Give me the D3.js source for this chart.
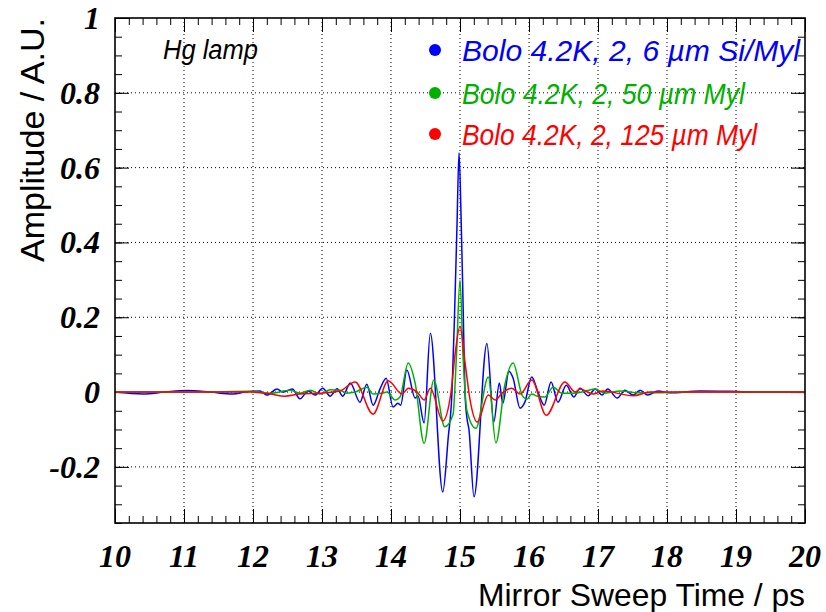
<!DOCTYPE html>
<html><head><meta charset="utf-8">
<script src="https://cdn.jsdelivr.net/npm/d3@7"></script>
<style>body{margin:0;background:#fff}svg{display:block}</style>
</head><body>
<svg id="c" width="826" height="612"></svg>
<script>
// ---- data ----
const xTickLabels = ["10","11","12","13","14","15","16","17","18","19","20"];
const yTickValues = [-0.2, 0, 0.2, 0.4, 0.6, 0.8, 1];
const yTickLabels = ["-0.2","0","0.2","0.4","0.6","0.8","1"];
const seriesNames = ["Bolo 4.2K, 2, 6 \u00b5m Si/Myl", "Bolo 4.2K, 2, 50 \u00b5m Myl", "Bolo 4.2K, 2, 125 \u00b5m Myl"];
const seriesColors = ["#0000ff", "#00b000", "#ff0000"];

const blueTime = [10.00,10.41,10.72,11.04,11.38,11.71,11.88,12.10,12.20,12.35,12.43,12.57,12.68,12.80,12.90,13.01,13.12,13.22,13.30,13.41,13.55,13.65,13.74,13.84,13.93,14.03,14.10,14.14,14.23,14.35,14.39,14.48,14.57,14.75,14.83,14.884,14.920,14.957,14.986,15.014,15.043,15.072,15.101,15.130,15.203,15.39,15.49,15.57,15.62,15.71,15.77,15.87,15.94,16.04,16.13,16.22,16.32,16.42,16.54,16.65,16.74,16.86,16.96,17.06,17.14,17.28,17.39,17.51,17.61,17.72,17.87,18.04,18.48,18.91,19.35,20.00];
const blueAmp  = [0,-0.005,0,0.004,0,-0.005,0,0.003,-0.008,0.008,0,0.008,-0.018,0.003,-0.008,0.010,-0.011,0.009,-0.011,0.024,-0.027,0.021,-0.035,0.008,0.037,-0.040,-0.030,-0.035,0.059,-0.016,-0.010,-0.083,0.157,-0.267,-0.12,0.0,0.20,0.45,0.64,0.48,0.25,0.0,-0.07,-0.10,-0.28,0.13,-0.08,0.024,-0.030,0.056,0.037,-0.043,-0.027,0.040,0.0,-0.035,0.027,-0.027,0.018,-0.013,0.010,-0.010,0.008,-0.008,0.008,-0.016,0.005,-0.008,0.005,-0.008,0.003,-0.002,0.003,0.002,0,0];

const greenTime = [10.00,11.23,11.96,12.25,12.54,12.68,12.83,12.97,13.12,13.26,13.36,13.48,13.65,13.74,13.87,13.94,14.06,14.13,14.25,14.35,14.48,14.62,14.78,14.899,14.949,15.000,15.043,15.101,15.23,15.41,15.52,15.65,15.77,15.90,15.97,16.04,16.12,16.23,16.35,16.48,16.64,16.81,16.96,17.10,17.32,17.61,18.48,20.00];
const greenAmp  = [0,0,0.002,-0.003,0.005,-0.003,0.005,-0.005,0.006,0.005,-0.003,0,0.013,-0.005,-0.003,0,-0.021,-0.013,0.078,0.024,-0.137,0.032,-0.093,-0.06,0.10,0.30,0.10,-0.05,-0.097,0.040,-0.136,0.02,0.078,-0.008,-0.019,-0.005,-0.011,-0.013,0.013,-0.003,-0.003,0.002,0.008,-0.003,0.003,-0.002,0,0];

const redTime = [10.00,11.23,11.96,12.25,12.46,12.68,12.97,13.26,13.48,13.74,13.96,14.16,14.25,14.38,14.48,14.57,14.75,14.870,14.928,15.000,15.072,15.145,15.25,15.41,15.51,15.61,15.75,15.87,16.04,16.25,16.52,16.67,16.74,16.93,17.07,17.51,17.75,18.48,20.00];
const redAmp  = [0,0,0,-0.005,-0.011,-0.005,-0.003,0.003,0.027,-0.059,0.030,-0.005,0.010,0.0,-0.021,0.010,-0.077,0.0,0.10,0.175,0.08,-0.02,-0.080,-0.008,-0.021,-0.003,0.010,-0.005,0.032,-0.062,0.027,0.0,0.008,-0.005,0.003,-0.010,0,0,0];

// ---- layout ----
const L = 115, R = 805, T = 18, B = 523;
const svg = d3.select("#c");
svg.append("rect").attr("width",826).attr("height",612).attr("fill","#fff");
const x = d3.scaleLinear().domain([10,20]).range([L,R]);
const y = d3.scaleLinear().domain([-0.35,1]).range([B,T]);

const xMajor = d3.range(10, 20.001, 1);
const xMinor = d3.range(0, 51).map(i => 10 + i*0.2);
const yMinor = d3.range(0, 28).map(i => -0.35 + i*0.05).filter(v => v <= 1.0001);

// grid
const grid = svg.append("g").attr("stroke","#000").attr("stroke-width",1).attr("stroke-dasharray","1,3");
grid.selectAll("line.gx").data(xMajor.slice(1,-1)).join("line")
  .attr("x1",d=>x(d)).attr("x2",d=>x(d)).attr("y1",T).attr("y2",B);
grid.selectAll("line.gy").data(yTickValues.slice(0,-1)).join("line")
  .attr("y1",d=>y(d)).attr("y2",d=>y(d)).attr("x1",L).attr("x2",R);

// ticks via d3 axes (inward)
function tickAxis(axisFn, scale, vals, size, tx, ty){
  const g = svg.append("g").attr("transform",`translate(${tx},${ty})`)
    .call(axisFn(scale).tickValues(vals).tickSize(size).tickFormat(""));
  g.select(".domain").remove();
  g.selectAll("line").attr("stroke","#000").attr("stroke-width",1);
}
tickAxis(d3.axisBottom, x, xMinor, -7, 0, B);
tickAxis(d3.axisBottom, x, xMajor, -14, 0, B);
tickAxis(d3.axisTop, x, xMinor, -7, 0, T);
tickAxis(d3.axisTop, x, xMajor, -14, 0, T);
tickAxis(d3.axisLeft, y, yMinor, -7, L, 0);
tickAxis(d3.axisLeft, y, yTickValues, -14, L, 0);
tickAxis(d3.axisRight, y, yMinor, -7, R, 0);
tickAxis(d3.axisRight, y, yTickValues, -14, R, 0);

// curves
const clip = svg.append("clipPath").attr("id","pc").append("rect")
  .attr("x",L).attr("y",T).attr("width",R-L).attr("height",B-T);
const line = d3.line().x(d=>x(d[0])).y(d=>y(d[1])).curve(d3.curveMonotoneX);
const series = [
  d3.zip(blueTime, blueAmp),
  d3.zip(greenTime, greenAmp),
  d3.zip(redTime, redAmp)
];
const pg = svg.append("g").attr("clip-path","url(#pc)");
series.forEach((s,i)=>{
  pg.append("path").attr("d",line(s)).attr("fill","none")
    .attr("stroke",seriesColors[i]).attr("stroke-width",1.5).attr("stroke-linejoin","round");
});

// frame
svg.append("rect").attr("x",L).attr("y",T).attr("width",R-L).attr("height",B-T)
  .attr("fill","none").attr("stroke","#000").attr("stroke-width",1.6);

// tick labels
const tickFont = "'Liberation Serif', 'DejaVu Serif', serif";
svg.append("g").selectAll("text").data(xMajor).join("text")
  .attr("x",d=>x(d)).attr("y",567).attr("text-anchor","middle")
  .attr("font-family",tickFont).attr("font-weight","bold").attr("font-style","italic")
  .attr("font-size",32).text((d,i)=>xTickLabels[i]);
svg.append("g").selectAll("text").data(yTickValues).join("text")
  .attr("x",100).attr("y",d=>y(d)+11).attr("text-anchor","end")
  .attr("font-family",tickFont).attr("font-weight","bold").attr("font-style","italic")
  .attr("font-size",32).text((d,i)=>yTickLabels[i]);

// axis titles
const sans = "'Liberation Sans', Arial, sans-serif";
svg.append("text").attr("x",805).attr("y",606).attr("text-anchor","end")
  .attr("font-family",sans).attr("font-size",32).attr("textLength",327)
  .attr("lengthAdjust","spacingAndGlyphs").text("Mirror Sweep Time / ps");
svg.append("text").attr("transform","translate(44,18) rotate(-90)").attr("text-anchor","end")
  .attr("font-family",sans).attr("font-size",34).attr("textLength",244)
  .attr("lengthAdjust","spacingAndGlyphs").text("Amplitude / A.U.");

// annotation
svg.append("text").attr("x",163).attr("y",59).attr("font-family",sans)
  .attr("font-style","italic").attr("font-size",27).attr("textLength",95)
  .attr("lengthAdjust","spacingAndGlyphs").text("Hg lamp");

// legend
const legY = [50, 93, 134];
const legW = [338, 283, 295];
seriesNames.forEach((n,i)=>{
  svg.append("circle").attr("cx",435).attr("cy",legY[i]).attr("r",6).attr("fill",seriesColors[i]);
  svg.append("text").attr("x",462).attr("y",legY[i]+11).attr("font-family",sans)
    .attr("font-style","italic").attr("font-size",30).attr("fill",seriesColors[i])
    .attr("textLength",legW[i]).attr("lengthAdjust","spacingAndGlyphs").text(n);
});
</script>
</body></html>
